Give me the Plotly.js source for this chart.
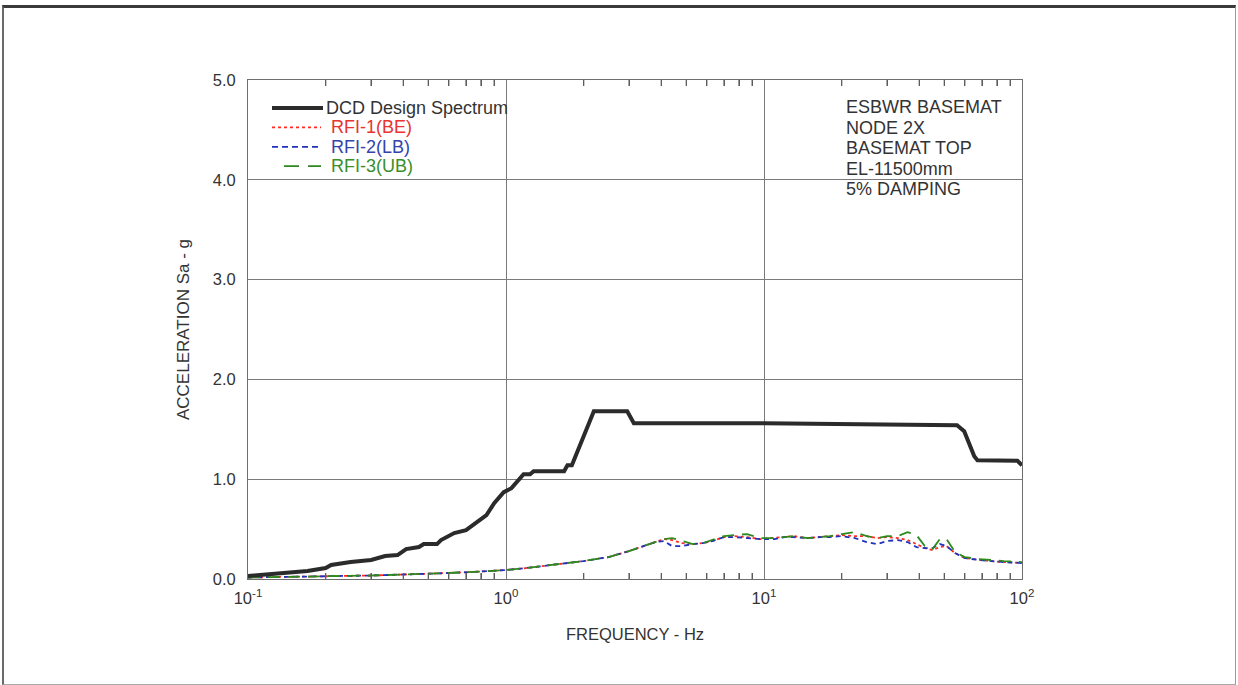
<!DOCTYPE html>
<html>
<head>
<meta charset="utf-8">
<script src="https://cdn.plot.ly/plotly-3.0.1.min.js"></script>
<style>
  html, body { margin: 0; padding: 0; background: #ffffff; }
  #wrap { position: relative; width: 1238px; height: 685px; overflow: hidden; }
  #chart { position: absolute; left: 0; top: 0; width: 1238px; height: 685px; }
  #frame {
    position: absolute; left: 2px; top: 5px; width: 1231px; height: 676px;
    border-top: 3px solid #3a3a3a; border-left: 2px solid #6a6a6a;
    border-right: 1px solid #9a9a9a; border-bottom: 1px solid #a8a8a8;
    pointer-events: none;
  }
</style>
</head>
<body>
<div id="wrap">
  <div id="chart"></div>
  <div id="frame"></div>
</div>
<script>
// DCD design spectrum (frequency in Hz, spectral acceleration in g)
const dcdFreq = [0.1, 0.12, 0.15, 0.17, 0.2, 0.21, 0.25, 0.3, 0.34, 0.38, 0.41, 0.46, 0.48, 0.54, 0.56, 0.63, 0.7, 0.79, 0.84, 0.9, 0.98, 1.05, 1.17, 1.24, 1.28, 1.68, 1.73, 1.8, 2.19, 2.95, 3.13, 10, 38, 56, 59.7, 65.3, 67.2, 96, 100];
const dcdSa   = [0.03, 0.045, 0.065, 0.08, 0.11, 0.14, 0.17, 0.19, 0.23, 0.24, 0.30, 0.32, 0.35, 0.35, 0.39, 0.46, 0.49, 0.59, 0.64, 0.76, 0.87, 0.91, 1.05, 1.05, 1.08, 1.08, 1.14, 1.14, 1.68, 1.68, 1.56, 1.56, 1.55, 1.54, 1.48, 1.23, 1.19, 1.185, 1.14];

// RFI response spectra share one frequency grid
const rfiFreq = [0.1, 0.15, 0.2, 0.3, 0.4, 0.5, 0.6, 0.8, 1.0, 1.2, 1.5, 2.0, 2.5, 3.0, 3.5, 3.8, 4.1, 4.4, 4.8, 5.3, 5.8, 6.3, 7.0, 7.7, 8.6, 9.7, 11, 12, 13, 14.7, 16.5, 18, 20, 22.5, 25, 27.5, 30, 33, 36, 39, 42, 45, 48, 51, 55, 60, 68, 75, 85, 100];
const rfi1BE  = [0.015, 0.02, 0.025, 0.035, 0.045, 0.05, 0.06, 0.075, 0.09, 0.11, 0.14, 0.18, 0.22, 0.28, 0.34, 0.37, 0.40, 0.39, 0.36, 0.35, 0.36, 0.38, 0.42, 0.43, 0.42, 0.40, 0.41, 0.42, 0.43, 0.41, 0.42, 0.43, 0.44, 0.43, 0.43, 0.41, 0.42, 0.41, 0.39, 0.35, 0.31, 0.29, 0.32, 0.33, 0.26, 0.21, 0.19, 0.18, 0.17, 0.16];
const rfi2LB  = [0.015, 0.02, 0.025, 0.035, 0.045, 0.05, 0.06, 0.075, 0.09, 0.11, 0.14, 0.18, 0.22, 0.28, 0.34, 0.37, 0.38, 0.33, 0.33, 0.35, 0.36, 0.38, 0.42, 0.42, 0.41, 0.40, 0.40, 0.42, 0.42, 0.41, 0.42, 0.42, 0.43, 0.41, 0.37, 0.35, 0.38, 0.39, 0.37, 0.32, 0.31, 0.31, 0.35, 0.33, 0.26, 0.21, 0.19, 0.18, 0.17, 0.16];
const rfi3UB  = [0.015, 0.02, 0.025, 0.035, 0.045, 0.05, 0.06, 0.075, 0.09, 0.11, 0.14, 0.18, 0.22, 0.28, 0.34, 0.37, 0.40, 0.41, 0.38, 0.35, 0.36, 0.39, 0.43, 0.44, 0.45, 0.41, 0.41, 0.42, 0.43, 0.41, 0.42, 0.43, 0.45, 0.47, 0.43, 0.41, 0.43, 0.43, 0.47, 0.44, 0.33, 0.30, 0.40, 0.40, 0.27, 0.22, 0.20, 0.19, 0.18, 0.17];

// Axis tick labels
const xTickVals = [0.1, 1, 10, 100];
const xTickText = ['10<sup>-1</sup>', '10<sup>0</sup>', '10<sup>1</sup>', '10<sup>2</sup>'];
const yTickVals = [0, 1, 2, 3, 4, 5];
const yTickText = ['0.0', '1.0', '2.0', '3.0', '4.0', '5.0'];

// Note block in the upper right of the plot
const noteLines = ['ESBWR BASEMAT', 'NODE 2X', 'BASEMAT TOP', 'EL-11500mm', '5% DAMPING'];

const FONT = 'Arial, "Liberation Sans", Helvetica, sans-serif';
const TXT = '#333333';
const GRID = '#7a7a7a';

// decade labels written as powers of ten
const xLabelAlias = {};
xTickVals.forEach((v, i) => { xLabelAlias[String(v)] = xTickText[i]; });

// minor log ticks at 2..9 of every decade
const xMinorVals = [];
[0.1, 1, 10].forEach(d => { for (let k = 2; k <= 9; k++) xMinorVals.push(+(d * k).toPrecision(3)); });

// plot area in pixels: left 248, right 1022, top 80, bottom 579
const PL = 248, PR = 1022, PT = 80, PB = 579;
const px2x = px => (px - PL) / (PR - PL);
const px2y = py => (PB - py) / (PB - PT);

const series = [
  { name: 'DCD Design Spectrum', x: dcdFreq, y: dcdSa, color: '#2b2b2b', text: TXT, width: 4, dash: 'solid', legDash: 'solid' },
  { name: 'RFI-1(BE)', x: rfiFreq, y: rfi1BE, color: '#ff2a22', text: '#e8332e', width: 1.8, dash: 'dot', legDash: 'dot' },
  { name: 'RFI-2(LB)', x: rfiFreq, y: rfi2LB, color: '#2233bb', text: '#3344aa', width: 1.8, dash: '5px,4px', legDash: '6px,4px' },
  { name: 'RFI-3(UB)', x: rfiFreq, y: rfi3UB, color: '#2d8a1e', text: '#3a8f2a', width: 1.8, dash: '12px,8px', legDash: '15px,9px' }
];

// RFI curves first so the design spectrum sits on top
const drawOrder = [1, 2, 3, 0];
const traces = drawOrder.map(i => {
  const s = series[i];
  return { x: s.x, y: s.y, type: 'scatter', mode: 'lines', name: s.name,
           showlegend: false, line: { color: s.color, width: s.width, dash: s.dash } };
});

const shapes = [
  // white panels behind the legend and the note block
  { type: 'rect', xref: 'paper', yref: 'paper', x0: 0, x1: px2x(573), y0: px2y(186), y1: 1,
    fillcolor: '#ffffff', line: { width: 0 }, layer: 'between' },
  { type: 'rect', xref: 'paper', yref: 'paper', x0: px2x(842), x1: px2x(1011), y0: px2y(199), y1: px2y(92),
    fillcolor: '#ffffff', line: { width: 0 }, layer: 'between' }
];

// short minor ticks along the bottom and top edges, placed on the log x scale
const MINOR_LEN = 6 / (PB - PT);
xMinorVals.forEach(v => {
  shapes.push({ type: 'line', xref: 'x', yref: 'paper', x0: v, x1: v, y0: 0, y1: MINOR_LEN,
    line: { color: '#5e5e5e', width: 1.3 }, layer: 'above' });
  shapes.push({ type: 'line', xref: 'x', yref: 'paper', x0: v, x1: v, y0: 1, y1: 1 - MINOR_LEN,
    line: { color: '#5e5e5e', width: 1.3 }, layer: 'above' });
});

const annotations = [];

// legend: line sample plus coloured label per series
series.forEach((s, i) => {
  const yc = 108 + i * 19.4;
  const x0 = i === 3 ? 284 : 272;
  const x1 = i === 0 ? 323 : 321;
  shapes.push({ type: 'line', xref: 'paper', yref: 'paper',
    x0: px2x(x0), x1: px2x(x1), y0: px2y(yc), y1: px2y(yc),
    line: { color: s.color, width: s.width, dash: s.legDash }, layer: 'above' });
  annotations.push({ xref: 'paper', yref: 'paper', x: px2x(i === 0 ? 324 : 329), y: px2y(yc),
    xanchor: 'left', yanchor: 'middle', showarrow: false, text: s.name,
    font: { family: FONT, size: 18, color: s.text } });
});

// note lines
noteLines.forEach((t, i) => {
  annotations.push({ xref: 'paper', yref: 'paper', x: px2x(844), y: px2y(107 + i * 20.5),
    xanchor: 'left', yanchor: 'middle', showarrow: false, text: t,
    font: { family: FONT, size: 18, color: TXT } });
});

const layout = {
  width: 1238, height: 685,
  margin: { l: PL, r: 1238 - PR, t: PT, b: 685 - PB },
  paper_bgcolor: '#ffffff', plot_bgcolor: '#ffffff',
  font: { family: FONT, color: TXT, size: 16 },
  showlegend: false,
  xaxis: {
    type: 'log', range: [-1, 2],
    tickmode: 'linear', tick0: 0, dtick: 1,
    labelalias: xLabelAlias,
    ticks: 'inside', ticklen: 10, tickcolor: GRID,
    showline: true, linecolor: '#6e6e6e', linewidth: 1, mirror: 'ticks',
    showgrid: true, gridcolor: GRID, gridwidth: 1,
    zeroline: false,
    tickfont: { family: FONT, size: 16.5, color: TXT },
    ticklabelstandoff: 4,
    minor: { dtick: 'D1', ticks: 'inside', ticklen: 6, tickcolor: '#5e5e5e', tickwidth: 1, showgrid: false },
    title: { text: 'FREQUENCY - Hz', font: { family: FONT, size: 16.5, color: TXT }, standoff: 22 },
    automargin: false
  },
  yaxis: {
    range: [0, 5],
    tickmode: 'array', tickvals: yTickVals, ticktext: yTickText,
    ticks: 'inside', ticklen: 10, tickcolor: GRID,
    showline: true, linecolor: '#6e6e6e', linewidth: 1, mirror: 'ticks',
    showgrid: true, gridcolor: GRID, gridwidth: 1,
    zeroline: false,
    tickfont: { family: FONT, size: 16.5, color: TXT },
    ticklabelstandoff: 8,
    title: { text: 'ACCELERATION Sa - g', font: { family: FONT, size: 17, color: TXT }, standoff: 18 },
    automargin: false
  },
  shapes: shapes,
  annotations: annotations
};

Plotly.newPlot('chart', traces, layout, { displayModeBar: false, staticPlot: true });
</script>
</body>
</html>
